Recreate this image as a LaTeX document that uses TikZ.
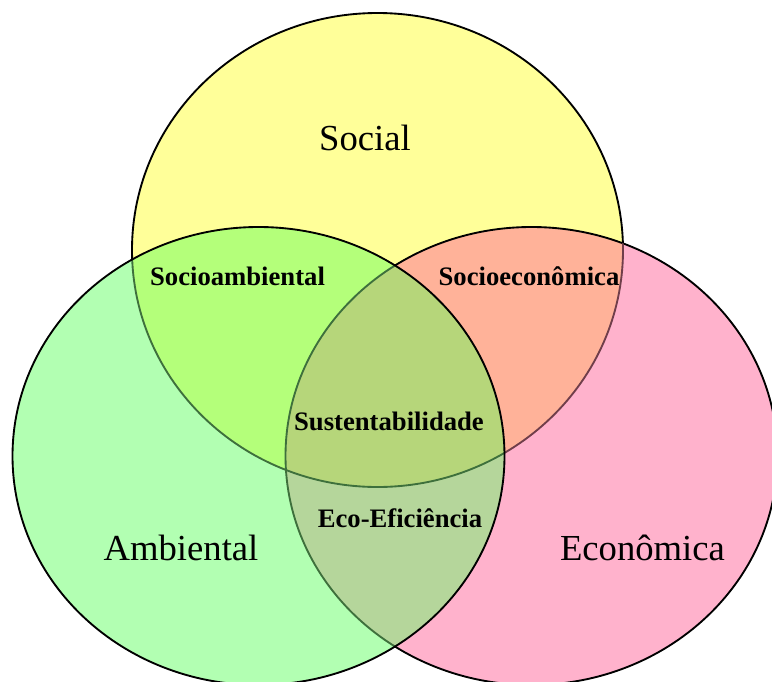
\documentclass[tikz,border=0pt]{standalone}
\usepackage{fontspec}
\setmainfont{Liberation Serif}
\definecolor{cSoc}{RGB}{255,255,153}
\definecolor{cAmb}{RGB}{178,255,178}
\definecolor{cEco}{RGB}{255,178,204}
\definecolor{cSA}{RGB}{180,255,122}
\definecolor{cSE}{RGB}{255,178,153}
\definecolor{cAE}{RGB}{181,214,155}
\definecolor{cSAE}{RGB}{182,214,122}
\definecolor{edgeA}{RGB}{62,112,60}
\definecolor{edgeE}{RGB}{112,62,74}
\tikzset{
  edge/.style={line width=1.4pt},
  biglabel/.style={font=\fontsize{27.5}{30}\selectfont, anchor=base, inner sep=0pt},
  smalllabel/.style={font=\bfseries\fontsize{20}{24}\selectfont, anchor=base, inner sep=0pt},
  socp/.style={insert path={(377.5,250) ellipse [x radius=245.5, y radius=237]}},
  ambp/.style={insert path={(258.5,456) ellipse [x radius=246, y radius=229]}},
  ecop/.style={insert path={(531.5,456) ellipse [x radius=246, y radius=229]}}
}
\begin{document}
\begin{tikzpicture}[x=0.75pt,y=-0.75pt]
\useasboundingbox (0,0) rectangle (772,682);
\clip (0,0) rectangle (772,682);
% base fills
\fill[cSoc, socp];
\fill[cAmb, ambp];
\fill[cEco, ecop];
% Social & Ambiental
\begin{scope}
  \clip[socp];
  \fill[cSA, ambp];
  \fill[cSE, ecop];
\end{scope}
% Ambiental & Economica
\begin{scope}
  \clip[ambp];
  \fill[cAE, ecop];
\end{scope}
% centre
\begin{scope}
  \clip[socp];
  \clip[ambp];
  \fill[cSAE, ecop];
\end{scope}
% outlines
\begin{scope}[even odd rule]
  \clip (-10,-10) rectangle (790,700) (258.5,456) ellipse [x radius=246, y radius=229];
  \draw[edge, black, ecop];
  \begin{scope}
    \clip (-10,-10) rectangle (790,700) (531.5,456) ellipse [x radius=246, y radius=229];
    \draw[edge, black, socp];
  \end{scope}
  \begin{scope}
    \clip[ecop];
    \draw[edge, edgeE, socp];
  \end{scope}
\end{scope}
\begin{scope}
  \clip[ambp];
  \draw[edge, edgeA, ecop];
  \draw[edge, edgeA, socp];
\end{scope}
\draw[edge, black, ambp];
% labels
\node[biglabel] (social) at (365,150) {Social};
\node[biglabel] (ambiental) at (181,560) {Ambiental};
\node[biglabel] (economica) at (642.5,560) {Econômica};
\node[smalllabel] (socioamb) at (237.5,285) {Socioambiental};
\node[smalllabel] (socioeco) at (529,285) {Socioeconômica};
\node[smalllabel] (sust) at (389,430) {Sustentabilidade};
\node[smalllabel] (ecoef) at (400,527) {Eco-Eficiência};
\end{tikzpicture}
\end{document}
